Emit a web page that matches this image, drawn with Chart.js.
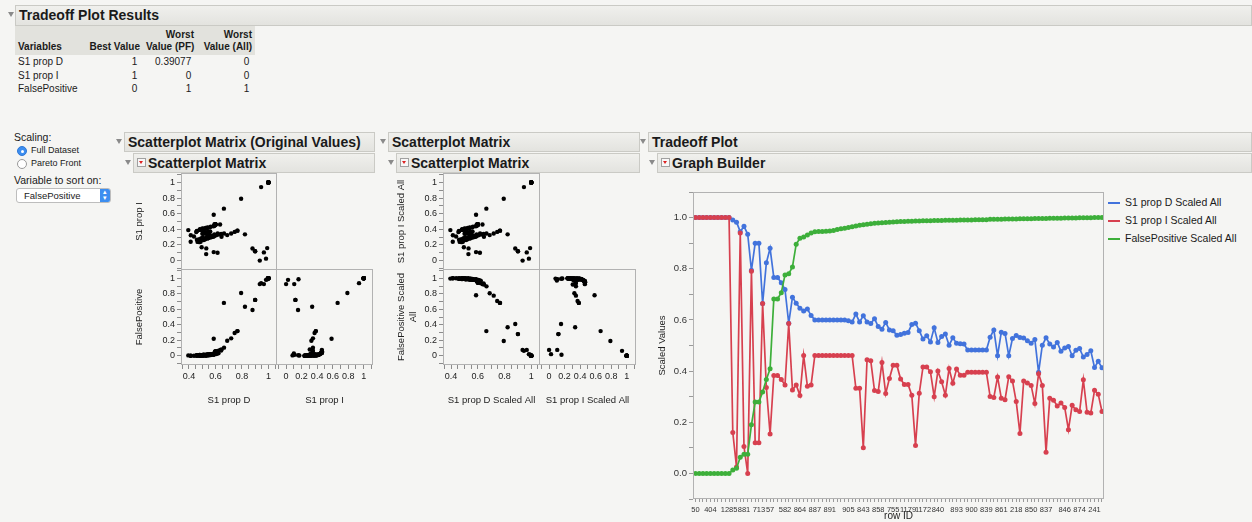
<!DOCTYPE html>
<html lang="en">
<head>
<meta charset="UTF-8">
<title>Tradeoff Plot Results</title>
<script src="https://cdn.jsdelivr.net/npm/chart.js"></script>
<style>
    body {
        margin: 0;
        width: 1252px;
        height: 522px;
        overflow: hidden;
        position: relative;
        background: #f5f5f3;
        font-family: "Liberation Sans", Arial, sans-serif;
        color: #1a1a1a;
    }
    .abs { position: absolute; }
    .bar {
        position: absolute;
        box-sizing: border-box;
        height: 20px;
        background: linear-gradient(#f0f0ed, #e3e3df);
        border: 1px solid #cacac5;
        font-weight: bold;
        font-size: 14px;
        line-height: 18px;
        padding-left: 3px;
        white-space: nowrap;
    }
    .tri {
        position: absolute;
        width: 0; height: 0;
        border-left: 3.5px solid transparent;
        border-right: 3.5px solid transparent;
        border-top: 5px solid #8a8a8a;
    }
    .redbtn {
        position: absolute;
        box-sizing: border-box;
        width: 9px; height: 9px;
        border: 1px solid #a0a0a0;
        background: #f7f7f7;
    }
    .redbtn::after {
        content: "";
        position: absolute;
        left: 1px; top: 2px;
        border-left: 2.5px solid transparent;
        border-right: 2.5px solid transparent;
        border-top: 3.5px solid #d22;
    }
    #results { position: absolute; left: 15px; top: 26px; border-collapse: collapse; font-size: 10px; table-layout: fixed; width: 240px; }
    #results th { background: #e2e2dd; font-weight: bold; vertical-align: bottom; padding: 3px 3px 2px 3px; line-height: 12px; white-space: nowrap; }
    #results td { padding: 0 3px; height: 13.5px; line-height: 13px; white-space: nowrap; }
    .num { text-align: right; }
    .radio {
        position: absolute;
        box-sizing: border-box;
        width: 10px; height: 10px;
        border-radius: 50%;
        border: 1px solid #9a9a9a;
        background: #fff;
    }
    .radio.on { background: #3d8ef0; border-color: #2f78d6; }
    .radio.on::after {
        content: "";
        position: absolute;
        left: 2.5px; top: 2.5px;
        width: 3px; height: 3px;
        border-radius: 50%;
        background: #fff;
    }
    .legend-row { position: absolute; left: 1108px; font-size: 10.5px; white-space: nowrap; }
    .legend-row span { display: inline-block; width: 12px; height: 2px; vertical-align: middle; margin-right: 5px; }
</style>
</head>
<body>

    <!-- Tradeoff Plot Results -->
    <div class="tri" style="left:8px;top:12px;"></div>
    <div class="bar" style="left:15px;top:5px;width:1237px;height:21px;font-size:14px;line-height:19px;">Tradeoff Plot Results</div>
    <table id="results"></table>

    <!-- Controles -->
    <div class="abs" style="left:14px;top:131px;font-size:10.5px;">Scaling:</div>
    <div class="radio on" style="left:17px;top:146px;"></div>
    <div class="abs" style="left:31px;top:145px;font-size:9px;">Full Dataset</div>
    <div class="radio" style="left:17px;top:159px;"></div>
    <div class="abs" style="left:31px;top:158px;font-size:9px;">Pareto Front</div>
    <div class="abs" style="left:14px;top:174px;font-size:10.5px;">Variable to sort on:</div>
    <div class="abs" style="left:16px;top:188px;width:95px;height:15px;box-sizing:border-box;border:1px solid #bdbdbd;border-radius:3px;background:#fff;font-size:9.5px;line-height:13px;padding-left:7px;">FalsePositive</div>
    <div class="abs" style="left:100px;top:189px;width:10px;height:13px;background:#3d8ef0;border-radius:0 2px 2px 0;color:#fff;font-size:7px;line-height:6px;text-align:center;">&#9652;<br>&#9662;</div>

    <!-- Scatterplot Matrix (Original Values) -->
    <div class="tri" style="left:116px;top:139px;"></div>
    <div class="bar" style="left:124px;top:132px;width:251px;">Scatterplot Matrix (Original Values)</div>
    <div class="tri" style="left:125px;top:160px;"></div>
    <div class="bar" style="left:133px;top:153px;width:242px;padding-left:14px;">Scatterplot Matrix</div>
    <div class="redbtn" style="left:137px;top:158px;"></div>
    <canvas id="m1tl" class="abs" width="144" height="97" style="left:133px;top:173px;"></canvas>
    <canvas id="m1bl" class="abs" width="144" height="141" style="left:133px;top:269px;"></canvas>
    <canvas id="m1br" class="abs" width="97" height="141" style="left:276px;top:269px;"></canvas>

    <!-- Scatterplot Matrix (scaled) -->
    <div class="tri" style="left:380px;top:139px;"></div>
    <div class="bar" style="left:388px;top:132px;width:252px;">Scatterplot Matrix</div>
    <div class="tri" style="left:388px;top:160px;"></div>
    <div class="bar" style="left:396px;top:153px;width:244px;padding-left:14px;">Scatterplot Matrix</div>
    <div class="redbtn" style="left:400px;top:158px;"></div>
    <canvas id="m2tl" class="abs" width="145" height="97" style="left:395px;top:173px;"></canvas>
    <canvas id="m2bl" class="abs" width="145" height="141" style="left:395px;top:269px;"></canvas>
    <canvas id="m2br" class="abs" width="97" height="141" style="left:539px;top:269px;"></canvas>

    <!-- Tradeoff Plot -->
    <div class="tri" style="left:640px;top:139px;"></div>
    <div class="bar" style="left:648px;top:132px;width:604px;">Tradeoff Plot</div>
    <div class="tri" style="left:649px;top:160px;"></div>
    <div class="bar" style="left:657px;top:153px;width:595px;padding-left:14px;">Graph Builder</div>
    <div class="redbtn" style="left:661px;top:158px;"></div>
    <canvas id="tradeoff" class="abs" width="447" height="330" style="left:657px;top:192px;"></canvas>
    <div id="legend"></div>

    <script>
        // Tableau des resultats
        const tableVariables = ['S1 prop D', 'S1 prop I', 'FalsePositive'];
        const bestValue = [1, 1, 0];
        const worstValuePF = ['0.39077', '0', '1'];
        const worstValueAll = [0, 0, 1];

        // Series du Graph Builder (valeurs mises a l'echelle, triees par FalsePositive)
        const seriesNames = ['S1 prop D Scaled All', 'S1 prop I Scaled All', 'FalsePositive Scaled All'];
        const propDScaled = [
            1, 1, 1, 1, 1, 1, 1, 1, 1, 1,
            0.991, 0.982, 0.945, 0.966, 0.935, 0.794, 0.9, 0.9, 0.664, 0.823,
            0.88, 0.766, 0.766, 0.745, 0.719, 0.587, 0.689, 0.665, 0.646, 0.635,
            0.643, 0.617, 0.6, 0.6, 0.6, 0.6, 0.6, 0.6, 0.6, 0.6,
            0.6, 0.597, 0.592, 0.623, 0.592, 0.616, 0.592, 0.586, 0.605, 0.574,
            0.564, 0.59, 0.561, 0.558, 0.54, 0.543, 0.548, 0.551, 0.582, 0.587,
            0.558, 0.525, 0.538, 0.514, 0.569, 0.512, 0.535, 0.545, 0.501, 0.53,
            0.509, 0.507, 0.506, 0.482, 0.482, 0.482, 0.482, 0.482, 0.482, 0.532,
            0.561, 0.46, 0.552, 0.547, 0.46, 0.527, 0.539, 0.531, 0.529, 0.519,
            0.509, 0.523, 0.395, 0.501, 0.53, 0.506, 0.494, 0.512, 0.478, 0.49,
            0.496, 0.46, 0.481, 0.488, 0.455, 0.465, 0.479, 0.414, 0.438, 0.413
        ];
        const propIScaled = [
            1, 1, 1, 1, 1, 1, 1, 1, 1, 1,
            0.16, 0.025, 0.94, 0.105, 0, 0.79, 0.12, 0.12, 0.664, 0.336,
            0.154, 0.383, 0.383, 0.367, 0.346, 0.586, 0.326, 0.346, 0.305, 0.461,
            0.341, 0.346, 0.461, 0.461, 0.461, 0.461, 0.461, 0.461, 0.461, 0.461,
            0.461, 0.461, 0.461, 0.333, 0.333, 0.1, 0.444, 0.44, 0.324, 0.32,
            0.434, 0.312, 0.371, 0.423, 0.423, 0.369, 0.348, 0.348, 0.306, 0.109,
            0.313, 0.416, 0.416, 0.397, 0.3, 0.4, 0.358, 0.306, 0.41, 0.352,
            0.408, 0.384, 0.384, 0.395, 0.395, 0.395, 0.395, 0.395, 0.395, 0.301,
            0.297, 0.377, 0.294, 0.288, 0.378, 0.361, 0.281, 0.156, 0.361, 0.353,
            0.344, 0.273, 0.39, 0.344, 0.083, 0.294, 0.286, 0.264, 0.275, 0.258,
            0.171, 0.266, 0.249, 0.242, 0.366, 0.239, 0.236, 0.325, 0.309, 0.242
        ];
        const falsePositiveScaled = [
            0, 0, 0, 0, 0, 0, 0, 0, 0, 0,
            0.013, 0.02, 0.063, 0.075, 0.075, 0.19, 0.279, 0.279, 0.318, 0.367,
            0.409, 0.682, 0.682, 0.706, 0.776, 0.78, 0.807, 0.896, 0.919, 0.924,
            0.932, 0.94, 0.945, 0.946, 0.946, 0.947, 0.948, 0.95, 0.953, 0.956,
            0.958, 0.961, 0.964, 0.967, 0.97, 0.972, 0.974, 0.976, 0.978, 0.979,
            0.98, 0.981, 0.982, 0.983, 0.984, 0.985, 0.985, 0.986, 0.986, 0.987,
            0.987, 0.988, 0.988, 0.988, 0.989, 0.989, 0.989, 0.99, 0.99, 0.99,
            0.99, 0.991, 0.991, 0.991, 0.991, 0.992, 0.992, 0.992, 0.992, 0.993,
            0.993, 0.993, 0.993, 0.994, 0.994, 0.994, 0.994, 0.995, 0.995, 0.995,
            0.995, 0.996, 0.996, 0.996, 0.996, 0.997, 0.997, 0.997, 0.997, 0.998,
            0.998, 0.998, 0.998, 0.999, 0.999, 0.999, 0.999, 1, 1, 1
        ];

        // Etiquettes de l'axe row ID (positions)
        const rowIdLabels = ['50', '404', '1285', '881', '713', '57', '582', '864', '887', '891', '905', '843', '858', '755',
            '1179', '1172', '840', '893', '900', '839', '861', '218', '850', '837', '846', '874', '241'];
        const rowIdLabelIndex = [0, 4, 9, 13, 17, 20, 24, 28, 32, 36, 41, 45, 49, 53,
            57, 61, 65, 70, 74, 78, 82, 86, 90, 94, 99, 103, 107];

        const seriesColors = ['#4273dc', '#d7404f', '#3daf3a'];

        // Tableau
        const table = document.getElementById('results');
        let html = '<colgroup><col style="width:70px"><col style="width:58px"><col style="width:54px"><col style="width:58px"></colgroup>' +
            '<tr><th style="text-align:left;">Variables</th>' +
            '<th class="num">Best Value</th>' +
            '<th class="num">Worst<br>Value (PF)</th>' +
            '<th class="num">Worst<br>Value (All)</th></tr>';
        tableVariables.forEach((v, i) => {
            html += '<tr><td>' + v + '</td><td class="num">' + bestValue[i] + '&nbsp;</td><td class="num">' +
                worstValuePF[i] + '&nbsp;</td><td class="num">' + worstValueAll[i] + '&nbsp;</td></tr>';
        });
        table.innerHTML = html;

        // Legende
        const legend = document.getElementById('legend');
        seriesNames.forEach((name, i) => {
            const row = document.createElement('div');
            row.className = 'legend-row';
            row.style.top = (196 + i * 18) + 'px';
            row.innerHTML = '<span style="background:' + seriesColors[i] + '"></span>' + name;
            legend.appendChild(row);
        });

        // Valeurs d'origine a partir de l'echelle (worst -> 0, best -> 1)
        const unscale = (arr, k) => arr.map(v => worstValueAll[k] + v * (bestValue[k] - worstValueAll[k]));
        const propD = unscale(propDScaled, 0);
        const propI = unscale(propIScaled, 1);
        const falsePositive = unscale(falsePositiveScaled, 2);

        Chart.defaults.font.family = '"Liberation Sans", Arial, sans-serif';
        Chart.defaults.color = '#222';
        Chart.defaults.animation = false;
        Chart.defaults.plugins.legend.display = false;
        Chart.defaults.plugins.tooltip.enabled = false;

        // Cadre autour de la zone de trace
        Chart.register({
            id: 'frame',
            afterDraw(chart) {
                const { left, top, right, bottom } = chart.chartArea;
                const ctx = chart.ctx;
                ctx.save();
                ctx.strokeStyle = '#b2b2b2';
                ctx.lineWidth = 1;
                ctx.strokeRect(left + 0.5, top + 0.5, right - left - 1, bottom - top - 1);
                ctx.restore();
            }
        });

        const everyFifth = v => Math.abs(v * 5 - Math.round(v * 5)) < 1e-6;
        const plainLabel = v => everyFifth(v) ? String(Math.round(v * 10) / 10) : '';

        function yScale(show, title) {
            return {
                type: 'linear', min: -0.12, max: 1.12, display: show,
                grid: { drawOnChartArea: false, tickLength: 4, color: '#8c8c8c' },
                border: { display: false },
                ticks: { stepSize: 0.1, autoSkip: false, includeBounds: false, padding: 2, font: { size: 9 }, callback: plainLabel },
                title: { display: !!title, text: title, font: { size: 9.5 }, padding: { top: 1, bottom: 0 } },
                afterFit: show ? s => { s.width = 48; s.paddingTop = 0; s.paddingBottom = 0; } : undefined
            };
        }

        function xScale(kind, show, title) {
            const d = kind === 'D';
            return {
                type: 'linear', min: d ? 0.34 : -0.13, max: d ? 1.065 : 1.12, display: show,
                grid: { drawOnChartArea: false, tickLength: 4, color: '#8c8c8c' },
                border: { display: false },
                ticks: { stepSize: d ? 0.05 : 0.1, autoSkip: false, includeBounds: false, maxRotation: 0, padding: 2, font: { size: 9 }, callback: plainLabel },
                title: { display: !!title, text: title, font: { size: 9.5 }, padding: { top: 0, bottom: 4 } },
                afterFit: show ? s => { s.height = 45; s.paddingLeft = 0; s.paddingRight = 0; } : undefined
            };
        }

        function scatterPanel(id, xs, ys, xKind, showX, xTitle, showY, yTitle) {
            new Chart(document.getElementById(id), {
                type: 'scatter',
                data: {
                    datasets: [{
                        data: xs.map((x, i) => ({ x: x, y: ys[i] })),
                        backgroundColor: '#000',
                        borderWidth: 0,
                        pointRadius: 2.2
                    }]
                },
                options: {
                    responsive: false,
                    devicePixelRatio: 1,
                    layout: { padding: 0, autoPadding: false },
                    scales: {
                        x: xScale(xKind, showX, xTitle),
                        y: yScale(showY, yTitle)
                    }
                }
            });
        }

        // Matrice des valeurs d'origine
        scatterPanel('m1tl', propD, propI, 'D', false, '', true, 'S1 prop I');
        scatterPanel('m1bl', propD, falsePositive, 'D', true, 'S1 prop D', true, 'FalsePositive');
        scatterPanel('m1br', propI, falsePositive, 'I', true, 'S1 prop I', false, '');

        // Matrice des valeurs mises a l'echelle
        scatterPanel('m2tl', propDScaled, propIScaled, 'D', false, '', true, 'S1 prop I Scaled All');
        scatterPanel('m2bl', propDScaled, falsePositiveScaled, 'D', true, 'S1 prop D Scaled All', true, ['FalsePositive Scaled', 'All']);
        scatterPanel('m2br', propIScaled, falsePositiveScaled, 'I', true, 'S1 prop I Scaled All', false, '');

        // Tradeoff plot
        const seriesValues = [propDScaled, propIScaled, falsePositiveScaled];
        const labelAt = {};
        rowIdLabelIndex.forEach((idx, i) => { labelAt[idx] = rowIdLabels[i]; });

        new Chart(document.getElementById('tradeoff'), {
            type: 'line',
            data: {
                datasets: seriesValues.map((vals, k) => ({
                    label: seriesNames[k],
                    data: vals.map((v, i) => ({ x: i, y: v })),
                    borderColor: seriesColors[k],
                    backgroundColor: seriesColors[k],
                    borderWidth: 1.7,
                    pointRadius: 2.5,
                    pointBorderWidth: 0,
                    tension: 0,
                    order: 3 - k
                }))
            },
            options: {
                responsive: false,
                devicePixelRatio: 1,
                layout: { padding: 0, autoPadding: false },
                scales: {
                    x: {
                        type: 'linear', min: -0.67, max: 109.54,
                        grid: { drawOnChartArea: false, tickLength: 3, color: '#9a9a9a' },
                        border: { display: false },
                        ticks: {
                            stepSize: 1, autoSkip: false, includeBounds: false, maxRotation: 0, padding: 3,
                            font: { size: 7.5 }, color: '#333',
                            callback: v => labelAt[v] !== undefined ? labelAt[v] : ''
                        },
                        title: { display: true, text: 'row ID', font: { size: 10 }, padding: 0 },
                        afterFit: s => { s.height = 23; s.paddingLeft = 0; s.paddingRight = 0; }
                    },
                    y: {
                        type: 'linear', min: -0.1, max: 1.1,
                        grid: { drawOnChartArea: false, tickLength: 4, color: '#9a9a9a' },
                        border: { display: false },
                        ticks: {
                            stepSize: 0.1, autoSkip: false, includeBounds: false, padding: 2,
                            font: { size: 9.5 }, color: '#333',
                            callback: v => everyFifth(v) ? v.toFixed(1) : ''
                        },
                        title: { display: true, text: 'Scaled Values', font: { size: 9.5 }, padding: 0 },
                        afterFit: s => { s.width = 36; s.paddingTop = 0; s.paddingBottom = 0; }
                    }
                }
            }
        });
    </script>

</body>
</html>
